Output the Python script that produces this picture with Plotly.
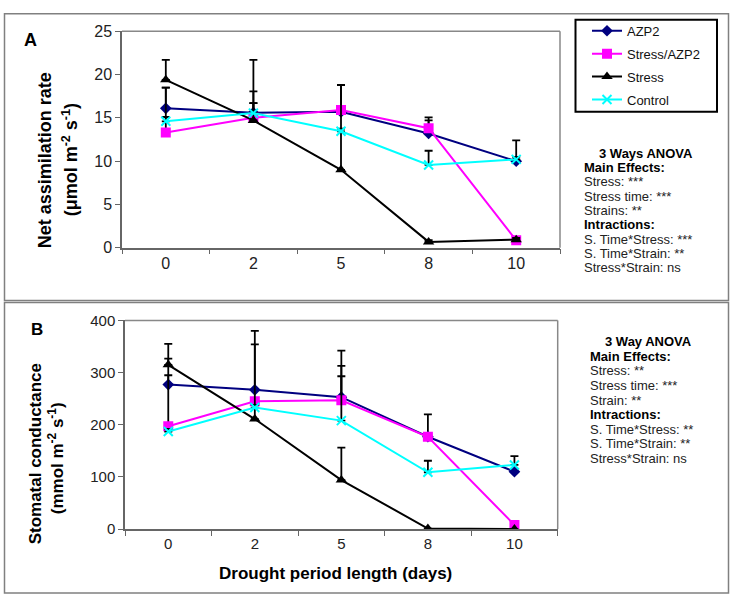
import plotly.graph_objects as go

W, H = 734, 606

days = ["0", "2", "5", "8", "10"]
series_names = ["AZP2", "Stress/AZP2", "Stress", "Control"]

# Panel A: Net assimilation rate (umol m-2 s-1)
a_azp2 = [16.1, 15.6, 15.7, 13.2, 10.0]
a_stress_azp2 = [13.3, 15.0, 15.9, 13.8, 0.85]
a_stress = [19.4, 14.7, 9.0, 0.67, 0.93]
a_control = [14.6, 15.55, 13.45, 9.56, 10.2]
a_azp2_err = [2.4, 2.45, 3.1, 1.5, 2.4]
a_stress_azp2_err = [5.2, 1.7, 0.3, 1.25, 0.3]
a_stress_err = [2.3, 7.0, 9.8, 0.2, 0.2]
a_control_err = [0.5, 1.15, 0.3, 1.64, 0.3]

# Panel B: Stomatal conductance (mmol m-2 s-1)
b_azp2 = [277, 267, 253, 177, 110]
b_stress_azp2 = [197, 245, 247, 177, 8]
b_stress = [315, 211, 94, 1, 0]
b_control = [187, 233, 208, 109, 123]
b_azp2_err = [50, 87, 89, 43, 0]
b_stress_azp2_err = [98, 5, 66, 5, 3]
b_stress_err = [40, 169, 62, 0, 0]
b_control_err = [5, 5, 85, 22, 17]

anova_a = ["Stress: ***", "Stress time: ***", "Strains: **", "Intractions:",
           "S. Time*Stress: ***", "S. Time*Strain: **", "Stress*Strain: ns"]
anova_b = ["Stress: **", "Stress time: ***", "Strain: **", "Intractions:",
           "S. Time*Stress: **", "S. Time*Strain: **", "Stress*Strain: ns"]

styles = [
    dict(color="#000080", symbol="diamond", size=9),
    dict(color="#FF00FF", symbol="square", size=10),
    dict(color="#000000", symbol="triangle-up", size=10),
    dict(color="#00FFFF", symbol="x-thin-open", size=9),
]

def px(x):
    return x / W

def py(y):
    return 1 - y / H

fig = go.Figure()

panels = [
    ([a_azp2, a_stress_azp2, a_stress, a_control],
     [a_azp2_err, a_stress_azp2_err, a_stress_err, a_control_err], "x", "y", True),
    ([b_azp2, b_stress_azp2, b_stress, b_control],
     [b_azp2_err, b_stress_azp2_err, b_stress_err, b_control_err], "x2", "y2", False),
]

for vals, errs, xa, ya, show in panels:
    for i, (name, v, e) in enumerate(zip(series_names, vals, errs)):
        st = styles[i]
        marker = dict(color=st["color"], symbol=st["symbol"], size=st["size"],
                      line=dict(color=st["color"], width=2 if "x-thin" in st["symbol"] else 0))
        fig.add_trace(go.Scatter(
            x=days, y=v, name=name, mode="lines+markers",
            line=dict(color=st["color"], width=2),
            marker=marker,
            error_y=dict(type="data", symmetric=False, array=e, arrayminus=[0] * len(e),
                         color="black", thickness=1.8, width=4),
            xaxis=xa, yaxis=ya, showlegend=show, legendgroup=name,
        ))

axis_common = dict(showline=True, linecolor="#666666", linewidth=1.5, ticks="outside",
                   ticklen=5, tickcolor="#666666", showgrid=False, zeroline=False,
                   tickfont=dict(family="Liberation Sans", color="#222222"))

fig.update_layout(
    width=W, height=H, margin=dict(l=0, r=0, t=0, b=0),
    paper_bgcolor="white", plot_bgcolor="white",
    font=dict(family="Liberation Sans", color="#222222"),
    hovermode=False,
    xaxis=dict(domain=[px(122), px(560)], anchor="y", type="category",
               range=[-0.5, 4.5], tickson="boundaries", **axis_common),
    yaxis=dict(domain=[py(246), py(23)], anchor="x", range=[0, 25], dtick=5, **axis_common),
    xaxis2=dict(domain=[px(125), px(557.7)], anchor="y2", type="category",
                range=[-0.5, 4.5], tickson="boundaries", **axis_common),
    yaxis2=dict(domain=[py(536), py(321)], anchor="x2", range=[0, 400], dtick=100, **axis_common),
    legend=dict(x=px(587), y=py(7), xanchor="left", yanchor="top",
                borderwidth=0, bgcolor="rgba(0,0,0,0)",
                font=dict(family="Liberation Sans", size=13, color="#111111"),
                tracegroupgap=3),
)
fig.update_xaxes(tickfont_size=16, selector=dict(anchor="y"))
fig.update_yaxes(tickfont_size=16, selector=dict(anchor="x"))
fig.update_xaxes(tickfont_size=15, selector=dict(anchor="y2"))
fig.update_yaxes(tickfont_size=15, selector=dict(anchor="x2"))

shapes = [
    dict(type="rect", xref="paper", yref="paper", x0=px(4.5), x1=px(728.5), y0=py(300.5), y1=py(5),
         line=dict(color="#808080", width=1.5)),
    dict(type="rect", xref="paper", yref="paper", x0=px(4.5), x1=px(728.5), y0=py(602), y1=py(302.5),
         line=dict(color="#808080", width=1.5)),
    # legend frame
    dict(type="rect", xref="paper", yref="paper", x0=px(575.5), x1=px(717), y0=py(106), y1=py(11),
         line=dict(color="black", width=2)),
]
for xr, yr in [("x", "y"), ("x2", "y2")]:
    shapes.append(dict(type="line", xref=f"{xr} domain", yref=f"{yr} domain", x0=0, x1=1, y0=1, y1=1,
                       line=dict(color="#888888", width=1.5)))
    shapes.append(dict(type="line", xref=f"{xr} domain", yref=f"{yr} domain", x0=1, x1=1, y0=0, y1=1,
                       line=dict(color="#888888", width=1.5)))
fig.update_layout(shapes=shapes)

ann = []
def add_text(text, x, y, size, bold=False, color="#222222", angle=0, xanchor="center"):
    ann.append(dict(text=f"<b>{text}</b>" if bold else text, x=px(x), y=py(y),
                    xref="paper", yref="paper", showarrow=False, textangle=angle,
                    xanchor=xanchor, yanchor="middle",
                    font=dict(family="Liberation Sans", size=size, color=color)))

add_text("A", 30, 32, 18, bold=True, color="black")
add_text("B", 37, 330, 17, bold=True, color="black")
add_text("Net assimilation rate", 45, 156, 18, bold=True, color="black", angle=-90)
add_text("(μmol m<sup>-2</sup> s<sup>-1</sup>)", 70, 156, 18, bold=True, color="black", angle=-90)
add_text("Stomatal conductance", 35, 459, 17, bold=True, color="black", angle=-90)
add_text("(mmol m<sup>-2</sup> s<sup>-1</sup>)", 56, 463, 17, bold=True, color="black", angle=-90)
add_text("Drought period length (days)", 335, 582, 17, bold=True, color="black")

# ANOVA blocks
add_text("3 Ways ANOVA", 646, 149, 13, bold=True, color="black")
add_text("Main Effects:", 582, 163.5, 13, bold=True, color="black", xanchor="left")
ya = 178
for line in anova_a:
    bold = line.endswith(":")
    add_text(line, 582, ya, 13, bold=bold, color="black" if bold else "#222222", xanchor="left")
    ya += 14.8

add_text("3 Way ANOVA", 648, 343, 13, bold=True, color="black")
add_text("Main Effects:", 588, 358.5, 13, bold=True, color="black", xanchor="left")
yb = 373
for line in anova_b:
    bold = line.endswith(":")
    add_text(line, 588, yb, 13, bold=bold, color="black" if bold else "#222222", xanchor="left")
    yb += 15

fig.update_layout(annotations=ann)

fig.write_html("out.html", config={"displayModeBar": False},
               post_script="document.body.style.margin='0';")
